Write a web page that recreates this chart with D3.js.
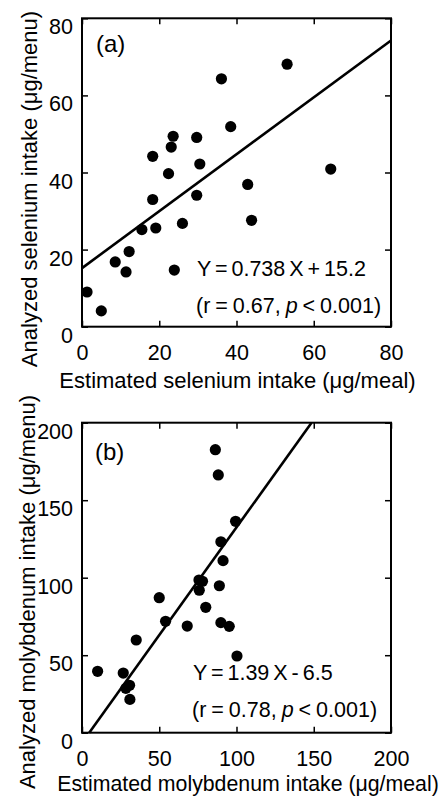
<!DOCTYPE html>
<html>
<head>
<meta charset="utf-8">
<script src="https://cdn.jsdelivr.net/npm/d3@7"></script>
<style>
  body { margin: 0; background: #fff; }
  svg { display: block; font-family: "Liberation Sans", Arial, sans-serif; }
  .axis path { display: none; }
  .axis line { stroke: #000; stroke-width: 1.5; }
  .axis text { font-size: 21.5px; fill: #000; }
</style>
</head>
<body>
<svg id="chart" width="447" height="798"></svg>
<script>
// values
var seEstimated = [18.3, 23.1, 23.6, 29.7, 36.1, 53.1, 38.5, 22.4, 30.5, 64.4, 42.9, 29.7,
                   18.3, 43.9, 15.5, 19.1, 26.0, 12.2, 8.6, 11.4, 23.9, 1.3, 5.0];
var seAnalyzed  = [44.2, 46.6, 49.4, 49.1, 64.3, 68.1, 51.9, 39.7, 42.2, 40.9, 36.9, 34.1,
                   33.0, 27.6, 25.2, 25.6, 26.8, 19.5, 16.8, 14.2, 14.7, 9.0, 4.1];
var moEstimated = [86.3, 88.2, 99.4, 89.9, 91.3, 75.7, 78.0, 75.9, 88.9, 50.0, 80.1,
                   54.1, 68.1, 89.9, 95.3, 35.1, 100.3, 10.1, 26.7, 30.8, 28.4, 31.0];
var moAnalyzed  = [182.6, 166.3, 136.4, 123.2, 111.0, 98.5, 97.7, 91.9, 94.8, 87.1, 80.9,
                   71.9, 68.8, 71.0, 68.6, 59.8, 49.5, 39.6, 38.5, 30.6, 28.6, 21.5];

var seTicks = [0, 20, 40, 60, 80];
var moTicks = [0, 50, 100, 150, 200];

var seFit = {slope: 0.738, intercept: 15.2};
var moFit = {slope: 1.39, intercept: -6.5};

var svg = d3.select('#chart');

function drawPanel(p) {
  var x = d3.scaleLinear().domain([p.ticks[0], p.ticks[p.ticks.length - 1]]).range([82, 391]);
  var y = d3.scaleLinear().domain([p.ticks[0], p.ticks[p.ticks.length - 1]]).range([p.bottom, p.top]);
  var g = svg.append('g');

  // inner ticks on all four sides
  g.append('g').attr('class', 'axis')
    .attr('transform', 'translate(0,' + p.bottom + ')')
    .call(d3.axisBottom(x).tickValues(p.ticks).tickSize(-6).tickPadding(18))
    .selectAll('text').attr('dy', '0.71em');
  g.append('g').attr('class', 'axis')
    .attr('transform', 'translate(0,' + p.top + ')')
    .call(d3.axisTop(x).tickValues(p.ticks).tickSize(-6).tickFormat(''));
  g.append('g').attr('class', 'axis')
    .attr('transform', 'translate(82,0)')
    .call(d3.axisLeft(y).tickValues(p.ticks).tickSize(-6).tickPadding(9))
    .selectAll('text').attr('dy', 15.5);
  g.append('g').attr('class', 'axis')
    .attr('transform', 'translate(391,0)')
    .call(d3.axisRight(y).tickValues(p.ticks).tickSize(-6).tickFormat(''));

  g.append('rect')
    .attr('x', x.range()[0]).attr('y', y.range()[1])
    .attr('width', x.range()[1] - x.range()[0])
    .attr('height', y.range()[0] - y.range()[1])
    .attr('fill', 'none').attr('stroke', '#000').attr('stroke-width', 2);

  // regression line, kept inside the frame
  var xd = x.domain(), yd = y.domain();
  var x0 = Math.max(xd[0], (yd[0] - p.fit.intercept) / p.fit.slope);
  var x1 = Math.min(xd[1], (yd[1] - p.fit.intercept) / p.fit.slope);
  g.append('path')
    .datum([x0, x1])
    .attr('d', d3.line()
      .x(function(d) { return x(d); })
      .y(function(d) { return y(p.fit.slope * d + p.fit.intercept); }))
    .attr('fill', 'none').attr('stroke', '#000').attr('stroke-width', 2.6);

  g.selectAll('circle')
    .data(p.xs)
    .enter()
    .append('circle')
    .attr('cx', function(d) { return x(d); })
    .attr('cy', function(d, i) { return y(p.ys[i]); })
    .attr('r', 5.6)
    .style('fill', '#000');

  var txt = function(tx, ty, size) {
    return g.append('text').attr('x', tx).attr('y', ty)
      .style('font-size', size + 'px').style('fill', '#000');
  };

  txt(p.tagX, p.tagY, 24).text(p.tag);
  txt(p.eqX, p.eqY, 21.5).style('word-spacing', '-2px').text(p.eq);
  var r = txt(p.eqX - 1, p.eqY + 37, 21.5).style('word-spacing', '-1px');
  r.append('tspan').text(p.stat + ', ');
  r.append('tspan').style('font-style', 'italic').text('p');
  r.append('tspan').text(' < 0.001)');

  txt(p.xLabX, p.xLabY, p.xLabSize).attr('text-anchor', 'middle').text(p.xLabel);
  g.append('text')
    .attr('transform', 'translate(' + p.yLabX + ',' + p.yLabY + ') rotate(-90)')
    .attr('text-anchor', 'middle')
    .style('font-size', '22px').style('fill', '#000')
    .text(p.yLabel);
}

drawPanel({
  xs: seEstimated, ys: seAnalyzed, ticks: seTicks, fit: seFit,
  top: 18.3, bottom: 326.7,
  tag: '(a)', tagX: 96, tagY: 52,
  eq: 'Y = 0.738 X + 15.2', stat: '(r = 0.67', eqX: 197, eqY: 276,
  xLabel: 'Estimated selenium intake (\u03bcg/meal)', xLabX: 237.5, xLabY: 388, xLabSize: 22,
  yLabel: 'Analyzed selenium intake (\u03bcg/menu)', yLabX: 37, yLabY: 189
});

drawPanel({
  xs: moEstimated, ys: moAnalyzed, ticks: moTicks, fit: moFit,
  top: 422.7, bottom: 732.7,
  tag: '(b)', tagX: 95, tagY: 460,
  eq: 'Y = 1.39 X - 6.5', stat: '(r = 0.78', eqX: 193, eqY: 680,
  xLabel: 'Estimated molybdenum intake (\u03bcg/meal)', xLabX: 248, xLabY: 791, xLabSize: 21.3,
  yLabel: 'Analyzed molybdenum intake (\u03bcg/menu)', yLabX: 35, yLabY: 592
});
</script>
</body>
</html>
